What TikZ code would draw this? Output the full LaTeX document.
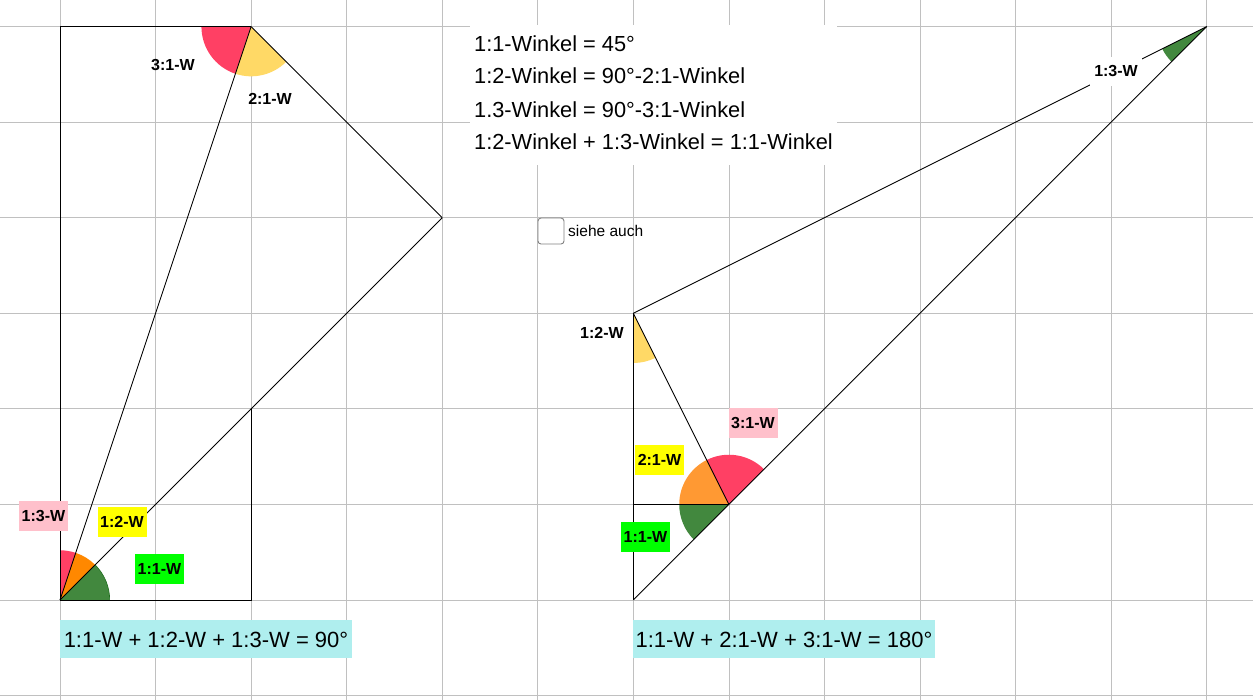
\documentclass[tikz,border=0pt]{standalone}
\usepackage{fontspec}
\setmainfont{Liberation Sans}
\definecolor{gridgray}{RGB}{192,192,192}
\definecolor{secred}{RGB}{255,64,100}
\definecolor{secyellow}{RGB}{255,217,102}
\definecolor{secorangeA}{RGB}{255,136,0}
\definecolor{secorangeB}{RGB}{255,153,51}
\definecolor{secgreen}{RGB}{66,136,62}
\definecolor{secgreendark}{RGB}{30,110,30}
\definecolor{boxpink}{RGB}{255,192,203}
\definecolor{boxyellow}{RGB}{255,255,0}
\definecolor{boxgreen}{RGB}{0,255,0}
\definecolor{boxcyan}{RGB}{175,238,238}
\definecolor{chkgray}{RGB}{128,128,128}
\newcommand\angsector[4]{\fill[#1] (#2) -- +(#3:0.52) arc[start angle=#3,end angle=#4,radius=0.52] -- cycle;}
\begin{document}
\begin{tikzpicture}[x=95.56pt,y=95.56pt,
  gridline/.style={draw=gridgray,line width=0.8pt},
  edge/.style={draw=black,line width=0.9pt},
  lab/.style={font=\fontsize{16}{18}\selectfont\bfseries,inner sep=0pt,minimum width=49pt,minimum height=30pt},
  formula/.style={font=\fontsize{22}{24}\selectfont,fill=boxcyan,inner xsep=3.5pt,inner ysep=0pt,minimum height=38pt},
  infotext/.style={font=\fontsize{21.8}{22}\selectfont,anchor=base west,inner sep=0pt}]
\useasboundingbox (-0.6279,-1.0465) rectangle (12.4843,6.2787);
\fill[white] (-0.6279,-1.0465) rectangle (12.4843,6.2787);
% grid
\foreach \i in {0,...,12} \draw[gridline] (\i,-1.0465) -- (\i,6.2787);
\foreach \j in {-1,...,6} \draw[gridline] (-0.6279,\j) -- (12.4843,\j);
% info box background
\fill[white] (4.290,6.012) rectangle (8.131,4.552);
% points left figure
\coordinate (O) at (0,0);
\coordinate (A) at (2,6);
\coordinate (B) at (4,4);
\coordinate (TL) at (0,6);
\coordinate (BR) at (2,0);
\coordinate (C) at (2,2);
% points right figure
\coordinate (S) at (6,0);
\coordinate (Q) at (6,1);
\coordinate (R) at (7,1);
\coordinate (P) at (6,3);
\coordinate (T) at (12,6);
% sectors left
\angsector{secgreen}{O}{0}{45}
\draw[secgreendark,line width=0.6pt] (0.52,0) arc[start angle=0,end angle=45,radius=0.52];
\angsector{secorangeA}{O}{45}{71.565}
\angsector{secred}{O}{71.565}{90}
\angsector{secred}{A}{180}{251.565}
\angsector{secyellow}{A}{251.565}{315}
% sectors right
\angsector{secgreen}{T}{206.565}{225}
\angsector{secyellow}{P}{270}{296.565}
\angsector{secgreen}{R}{180}{225}
\angsector{secorangeB}{R}{116.565}{180}
\angsector{secred}{R}{45}{116.565}
% edges left
\draw[edge] (O) -- (TL) -- (A);
\draw[edge] (O) -- (BR) -- (C);
\draw[edge] (O) -- (A);
\draw[edge] (O) -- (B);
\draw[edge] (A) -- (B);
% edges right
\draw[edge] (S) -- (P);
\draw[edge] (Q) -- (R);
\draw[edge] (S) -- (T);
\draw[edge] (P) -- (T);
\draw[edge] (P) -- (R);
% labels left
\node[lab] (l31) at (1.182,5.599) {3:1-W};
\node[lab] (l21) at (2.198,5.243) {2:1-W};
\node[lab,fill=boxpink] (l13) at (-0.173,0.879) {1:3-W};
\node[lab,fill=boxyellow] (l12) at (0.649,0.816) {1:2-W};
\node[lab,fill=boxgreen] (l11) at (1.041,0.324) {1:1-W};
\node[formula] (f1) at (1.528,-0.413) {1:1-W + 1:2-W + 1:3-W = 90°};
% labels right
\node[lab,fill=white,minimum width=52pt,minimum height=29pt] (r13) at (11.051,5.531) {1:3-W};
\node[lab] (r12) at (5.672,2.794) {1:2-W};
\node[lab,fill=boxpink] (r31) at (7.252,1.847) {3:1-W};
\node[lab,fill=boxyellow] (r21) at (6.274,1.470) {2:1-W};
\node[lab,fill=boxgreen] (r11) at (6.127,0.659) {1:1-W};
\node[formula,inner xsep=3pt] (f2) at (7.576,-0.413) {1:1-W + 2:1-W + 3:1-W = 180°};
% info text
\node[infotext] (t1) at (4.332,5.735) {1:1-Winkel = 45°};
\node[infotext] (t2) at (4.332,5.400) {1:2-Winkel = 90°-2:1-Winkel};
\node[infotext] (t3) at (4.332,5.054) {1.3-Winkel = 90°-3:1-Winkel};
\node[infotext] (t4) at (4.332,4.709) {1:2-Winkel + 1:3-Winkel = 1:1-Winkel};
% checkbox
\draw[chkgray,line width=0.9pt,rounded corners=3pt,fill=white] (5.002,3.997) rectangle (5.274,3.725);
\node[anchor=base west,inner sep=0pt,font=\fontsize{15.5}{17}\selectfont] (chk) at (5.316,3.799) {siehe auch};
\end{tikzpicture}
\end{document}
